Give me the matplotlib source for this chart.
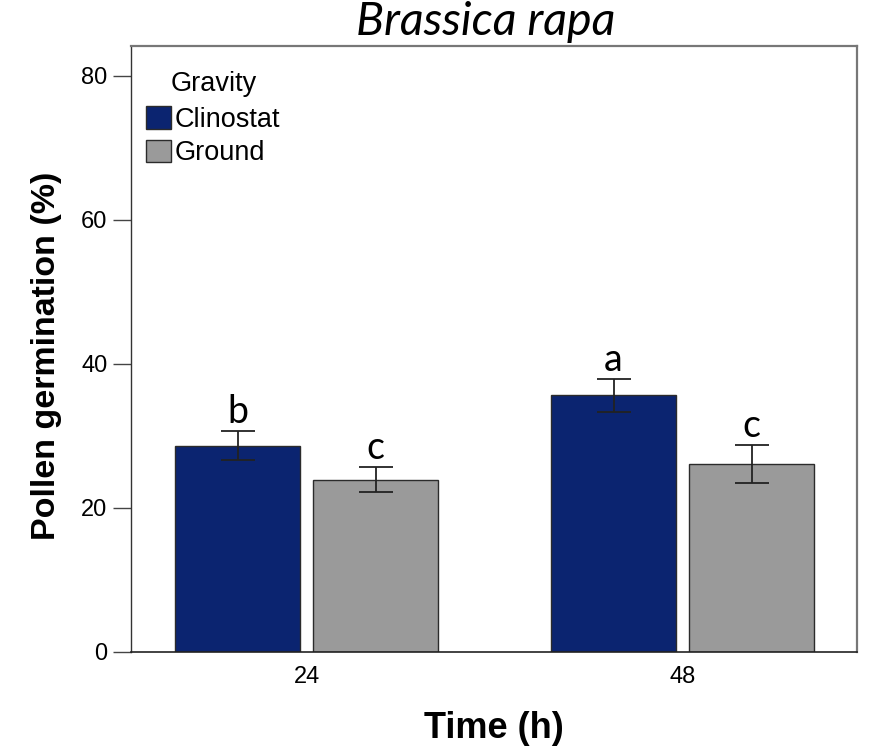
import matplotlib
matplotlib.use("Agg")
import matplotlib.pyplot as plt
from matplotlib.patches import Patch
import numpy as np

# germination means and standard errors per gravity treatment
times = ['24', '48']
groups = ['Clinostat', 'Ground']
means = {
    'Clinostat': [28.6, 35.6],
    'Ground': [23.9, 26.1],
}
errs = {
    'Clinostat': [2.0, 2.25],
    'Ground': [1.7, 2.6],
}
letters = {
    'Clinostat': ['b', 'a'],
    'Ground': ['c', 'c'],
}
colors = {'Clinostat': '#0b2470', 'Ground': '#9a9a9a'}

fig = plt.figure(figsize=(8.69, 7.56), dpi=100)
ax = fig.add_axes([131/869, 1 - 651.7/756, 726/869, 606/756])

x = np.arange(len(times))
width = 0.3324
offsets = {'Clinostat': -0.1835, 'Ground': 0.1835}

for g in groups:
    xs = x + offsets[g]
    ax.bar(xs, means[g], width=width, color=colors[g], edgecolor='#2b2b2b',
           linewidth=1.0, zorder=2)
    ax.errorbar(xs, means[g], yerr=errs[g], fmt='none', ecolor='#222222',
                elinewidth=1.3, capsize=12.2, capthick=1.3, zorder=3)
    for xi, m, e, lab in zip(xs, means[g], errs[g], letters[g]):
        ax.annotate(lab, (xi, m + e), xytext=(0, 6), textcoords='offset points',
                    ha='center', va='baseline', fontsize=27, family='Lato')

ax.set_xlim(-0.4668, 1.4640)
ax.set_ylim(0, 84.2)
ax.set_yticks([0, 20, 40, 60, 80])
ax.set_xticks(x)
ax.set_xticklabels(times)
ax.tick_params(axis='y', length=13, width=1.0, color='#444444', pad=4,
               labelsize=17, direction='out')
ax.tick_params(axis='x', length=0, pad=10, labelsize=17)
for lab in ax.get_xticklabels() + ax.get_yticklabels():
    lab.set_family('Liberation Sans')

for side in ['top', 'right']:
    ax.spines[side].set_color('#777777')
    ax.spines[side].set_linewidth(1.6)
ax.spines['left'].set_color('#333333')
ax.spines['bottom'].set_color('#222222')
ax.spines['left'].set_linewidth(1.0)
ax.spines['bottom'].set_linewidth(1.2)

ax.set_ylabel('Pollen germination (%)', fontsize=24.5, fontweight='bold',
              family='Liberation Sans')
ax.yaxis.set_label_coords(-0.095, 0.488)
ax.set_xlabel('Time (h)', fontsize=26, fontweight='bold',
              family='Liberation Sans', labelpad=17)
ax.set_title('Brassica rapa', fontsize=33.5, style='italic', family='Lato',
             pad=7.5, x=0.489)

handles = [Patch(facecolor=colors[g], edgecolor='#2b2b2b', linewidth=1.0)
           for g in groups]
leg = ax.legend(handles, groups, title='Gravity', loc='upper left',
                bbox_to_anchor=(0.021, 0.958), frameon=False, fontsize=19.5,
                title_fontsize=19.5, handlelength=0.93, handleheight=0.9,
                handletextpad=0.13, labelspacing=0.26, borderpad=0,
                borderaxespad=0)
leg._legend_box.sep = 6.5
for t in leg.get_texts() + [leg.get_title()]:
    t.set_family('Liberation Sans')

fig.savefig('out.png', dpi=100)
